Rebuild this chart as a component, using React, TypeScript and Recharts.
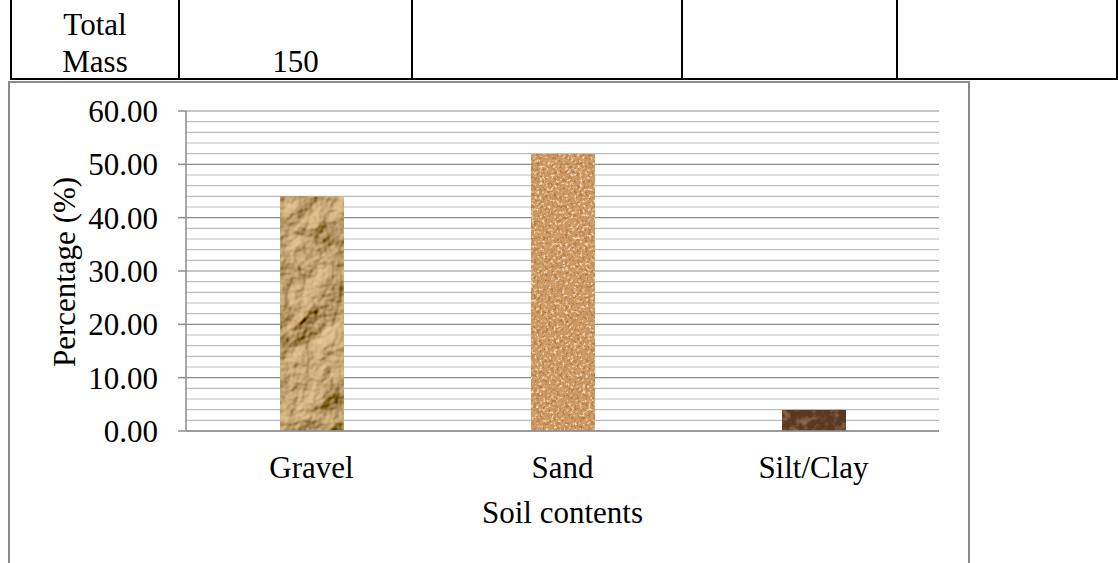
import React from "react";
import { BarChart, Bar, Cell, XAxis, YAxis, CartesianGrid, Label } from "recharts";

const categories = ["Gravel", "Sand", "Silt/Clay"];
const percentages = [44.0, 52.0, 4.0];
const majorTicks = [0, 10, 20, 30, 40, 50, 60];
const gridTicks = [0, 2, 4, 6, 8, 10, 12, 14, 16, 18, 20, 22, 24, 26, 28, 30, 32, 34, 36, 38, 40, 42, 44, 46, 48, 50, 52, 54, 56, 58, 60];
const totalMassLabel = ["Total", "Mass"];
const totalMassValue = "150";

const barFills = ["#b08a5c", "#cf9a62", "#5a3821"];
const barFilters = ["url(#gravelTex)", "url(#sandTex)", "url(#siltTex)"];

const data = categories.map((name, i) => ({ name, value: percentages[i] }));

const FONT = "'Liberation Serif', 'Times New Roman', serif";

const vLine = (x: number) => (
  <div key={x} style={{ position: "absolute", left: x - 1, top: 0, width: 2, height: 80, background: "#000" }} />
);

const YLabel = () => (
  <text
    x={64}
    y={272}
    transform="rotate(-90, 64, 272)"
    textAnchor="middle"
    dominantBaseline="central"
    fontSize={31}
    fontFamily={FONT}
    fill="#000"
  >
    Percentage (%)
  </text>
);

const XLabel = (props: any) => {
  const vb = props.viewBox || { x: 186, width: 753 };
  return (
    <text x={vb.x + vb.width / 2} y={523} textAnchor="middle" fontSize={31} fontFamily={FONT} fill="#000">
      Soil contents
    </text>
  );
};

// only labelled ticks get a number and a tick mark
const YTick = (p: any) => {
  const v = p.payload?.value;
  if (!majorTicks.includes(v)) return <g />;
  return (
    <g>
      <line x1={p.x + 20} x2={p.x + 28} y1={p.y} y2={p.y} stroke="#8c8c8c" strokeWidth={1.5} />
      <text x={p.x} y={p.y} dy="0.355em" textAnchor="end" fontSize={31} fontFamily={FONT} fill="#000">
        {v.toFixed(2)}
      </text>
    </g>
  );
};

// grid every 2 units, darker on the labelled ones
const GridLine = (p: any) => {
  const major = typeof p.index === "number" && p.index % 5 === 0;
  return (
    <line
      key={p.key}
      x1={p.x1}
      y1={p.y1}
      x2={p.x2}
      y2={p.y2}
      stroke={major ? "#8c8c8c" : "#bdbdbd"}
      strokeWidth={1.2}
    />
  );
};

export default function App() {
  return (
    <div style={{ position: "absolute", left: 0, top: 0, width: 1118, height: 563, background: "#fff", fontFamily: FONT, overflow: "hidden" }}>
      {/* table row above the chart */}
      {[11, 179, 412, 682, 897, 1117].map(vLine)}
      <div style={{ position: "absolute", left: 10, top: 78, width: 1108, height: 2, background: "#000" }} />
      <div style={{ position: "absolute", left: 11, width: 168, top: 6, fontSize: 31, lineHeight: "37px", textAlign: "center", color: "#000" }}>
        {totalMassLabel[0]}
        <br />
        {totalMassLabel[1]}
      </div>
      <div style={{ position: "absolute", left: 179, width: 233, top: 43, fontSize: 31, lineHeight: "37px", textAlign: "center", color: "#000" }}>
        {totalMassValue}
      </div>

      {/* chart cell border */}
      <div style={{ position: "absolute", left: 8, top: 81, width: 958, height: 500, borderLeft: "2px solid #8a8a8a", borderTop: "2px solid #8a8a8a", borderRight: "2px solid #8a8a8a" }} />

      <div style={{ position: "absolute", left: 0, top: 0 }}>
        <BarChart width={1118} height={563} data={data} margin={{ top: 111, right: 179, bottom: 32, left: 0 }} barSize={64}>
          <defs>
            <filter id="gravelTex" x="0" y="0" width="1" height="1">
              <feTurbulence type="fractalNoise" baseFrequency="0.03" numOctaves="4" seed="11" result="n" />
              <feDiffuseLighting in="n" lightingColor="#f2d6ac" surfaceScale="7" result="lit">
                <feDistantLight azimuth="225" elevation="42" />
              </feDiffuseLighting>
              <feComposite in="lit" in2="SourceGraphic" operator="arithmetic" k1="0" k2="0.95" k3="0.25" k4="-0.12" result="mix" />
              <feComposite in="mix" in2="SourceGraphic" operator="in" />
            </filter>
            <filter id="sandTex" x="0" y="0" width="1" height="1">
              <feTurbulence type="fractalNoise" baseFrequency="0.35" numOctaves="2" seed="9" result="n" />
              <feColorMatrix in="n" type="matrix" values="0 0 0 0 0.42  0 0 0 0 0.2  0 0 0 0 0.07  4 0 0 0 -2.0" result="dark" />
              <feColorMatrix in="n" type="matrix" values="0 0 0 0 0.93  0 0 0 0 0.76  0 0 0 0 0.52  0 -4 0 0 1.85" result="light" />
              <feMerge result="m">
                <feMergeNode in="SourceGraphic" />
                <feMergeNode in="light" />
                <feMergeNode in="dark" />
              </feMerge>
              <feComposite in="m" in2="SourceGraphic" operator="in" />
            </filter>
            <filter id="siltTex" x="0" y="0" width="1" height="1">
              <feTurbulence type="fractalNoise" baseFrequency="0.12" numOctaves="3" seed="2" result="n" />
              <feColorMatrix in="n" type="matrix" values="0 0 0 0 0.25  0 0 0 0 0.13  0 0 0 0 0.06  3 0 0 0 -1.4" result="dark" />
              <feMerge result="m">
                <feMergeNode in="SourceGraphic" />
                <feMergeNode in="dark" />
              </feMerge>
              <feComposite in="m" in2="SourceGraphic" operator="in" />
            </filter>
          </defs>
          <CartesianGrid vertical={false} horizontal={GridLine} />
          <XAxis
            dataKey="name"
            height={100}
            axisLine={{ stroke: "#8c8c8c", strokeWidth: 1.5 }}
            tickLine={false}
            tickSize={0}
            tickMargin={25}
            tick={{ fontSize: 31, fontFamily: FONT, fill: "#000" }}
          >
            <Label content={XLabel} />
          </XAxis>
          <YAxis
            width={186}
            domain={[0, 60]}
            ticks={gridTicks}
            interval={0}
            axisLine={{ stroke: "#8c8c8c", strokeWidth: 1.5 }}
            tickLine={false}
            tickSize={8}
            tickMargin={20}
            tick={YTick}
          >
            <Label content={YLabel} />
          </YAxis>
          <Bar dataKey="value" isAnimationActive={false}>
            {data.map((d, i) => (
              <Cell key={d.name} fill={barFills[i]} filter={barFilters[i]} />
            ))}
          </Bar>
        </BarChart>
      </div>
    </div>
  );
}
